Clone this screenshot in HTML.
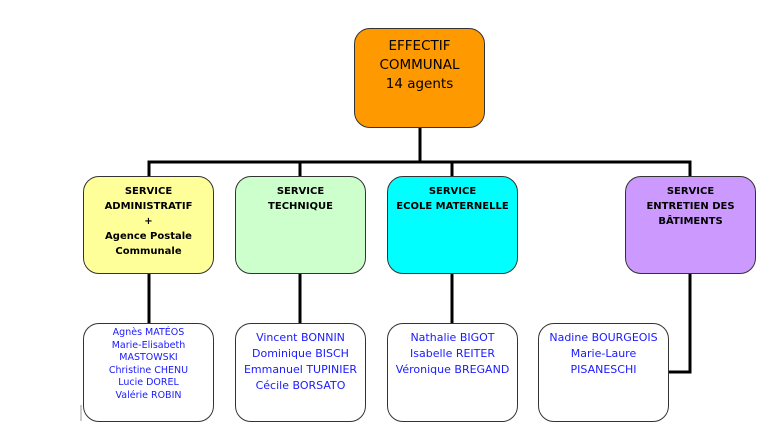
<!DOCTYPE html>
<html><head><meta charset="utf-8"><style>
body{margin:0;width:775px;height:442px;background:#fff;position:relative;overflow:hidden;font-family:"DejaVu Sans","Liberation Sans",sans-serif;}
.b{position:absolute;box-sizing:border-box;border:1px solid #333;border-radius:16px;text-align:center;}
.t{font-weight:bold;font-size:10px;line-height:15px;color:#000;padding-top:7px;}
.n{color:#1a1aff;font-size:11px;line-height:16px;padding-top:6px;}
.s{font-size:9.5px;line-height:12.5px;}
svg{position:absolute;left:0;top:0;}
</style></head><body>
<svg width="775" height="442">
<g stroke="#000" stroke-width="3" fill="none">
<line x1="420" y1="127" x2="420" y2="162"/>
<polyline points="149,177 149,162 690,162 690,177"/>
<line x1="300" y1="162" x2="300" y2="177"/>
<line x1="452" y1="162" x2="452" y2="177"/>
<line x1="149" y1="273" x2="149" y2="323"/>
<line x1="300" y1="273" x2="300" y2="323"/>
<line x1="452" y1="273" x2="452" y2="323"/>
<polyline points="690,273 690,372 668,372"/>
</g>
<line x1="81" y1="405" x2="81" y2="421" stroke="#999" stroke-width="1"/>
</svg>
<div class="b" style="left:354px;top:28px;width:131px;height:100px;background:#ff9900;font-size:13.5px;line-height:19px;padding-top:8px;">EFFECTIF<br>COMMUNAL<br>14 agents</div>
<div class="b t" style="left:83px;top:176px;width:131px;height:98px;background:#ffff99;">SERVICE<br>ADMINISTRATIF<br>+<br>Agence Postale<br>Communale</div>
<div class="b t" style="left:235px;top:176px;width:131px;height:98px;background:#ccffcc;">SERVICE<br>TECHNIQUE</div>
<div class="b t" style="left:387px;top:176px;width:131px;height:98px;background:#00ffff;">SERVICE<br>ECOLE MATERNELLE</div>
<div class="b t" style="left:625px;top:176px;width:131px;height:98px;background:#cc99ff;">SERVICE<br>ENTRETIEN DES<br>BÂTIMENTS</div>
<div class="b n s" style="left:83px;top:323px;width:131px;height:99px;background:#fff;padding-top:3px;">Agnès MATÉOS<br>Marie-Elisabeth<br>MASTOWSKI<br>Christine CHENU<br>Lucie DOREL<br>Valérie ROBIN</div>
<div class="b n" style="left:235px;top:323px;width:131px;height:99px;background:#fff;">Vincent BONNIN<br>Dominique BISCH<br>Emmanuel TUPINIER<br>Cécile BORSATO</div>
<div class="b n" style="left:387px;top:323px;width:131px;height:99px;background:#fff;">Nathalie BIGOT<br>Isabelle REITER<br>Véronique BREGAND</div>
<div class="b n" style="left:538px;top:323px;width:131px;height:99px;background:#fff;">Nadine BOURGEOIS<br>Marie-Laure<br>PISANESCHI</div>
</body></html>
